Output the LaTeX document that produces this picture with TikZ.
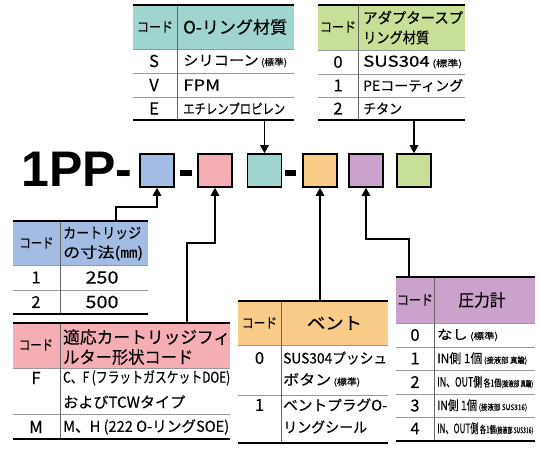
\documentclass[tikz,border=0pt]{standalone}
\usepackage{fontspec}
\setmainfont{Noto Sans CJK JP}[UprightFeatures={FakeBold=0.2}]
\newfontfamily\latb{Liberation Sans}
\usetikzlibrary{arrows.meta}
\definecolor{blueC}{HTML}{A2BCE3}
\definecolor{pinkC}{HTML}{F4AEB4}
\definecolor{tealC}{HTML}{9FD5CE}
\definecolor{oranC}{HTML}{F9CB88}
\definecolor{purpC}{HTML}{CBA2CC}
\definecolor{greeC}{HTML}{C8DF97}
\newcommand\fz[1]{\fontsize{#1}{#1}\selectfont}
\newsavebox\fitbox
\newcommand\fitto[2]{\sbox\fitbox{#2}\pgfmathsetmacro\fitr{#1/\the\wd\fitbox}\scalebox{\fitr}[1]{\usebox\fitbox}}
\tikzset{
  thkl/.style={line width=1.8pt},
  thinl/.style={line width=0.6pt, black!40},
  divl/.style={line width=0.7pt, black!60},
  conn/.style={line width=1.6pt, -{Triangle[length=8pt,width=8.5pt]}},
  cbox/.style={draw, line width=1.6pt, minimum width=34pt, minimum height=33pt, inner sep=0pt},
  lt/.style={inner sep=0pt, anchor=west},
  ct/.style={inner sep=0pt},
  cd/.style={inner sep=0pt, font=\fz{14}},
  num/.style={inner sep=0pt, font=\fz{16.5}},
}
\begin{document}
\begin{tikzpicture}[x=1pt,y=-1pt]
\useasboundingbox (0,0) rectangle (540,450);

% ---------- part number ----------
\node[lt, font=\latb\bfseries\fz{50}] (pn) at (21,169) {1PP-};
\node[cbox, fill=blueC] (b1) at (157,170.5) {};
\node[cbox, fill=pinkC] (b2) at (215,170.5) {};
\node[cbox, fill=tealC] (b3) at (264.5,170.5) {};
\node[cbox, fill=oranC] (b4) at (320,170.5) {};
\node[cbox, fill=purpC] (b5) at (366,170.5) {};
\node[cbox, fill=greeC] (b6) at (414,170.5) {};
\fill (180,170) rectangle (192,176);
\fill (285,170) rectangle (296,176);

% ---------- table 1: O-ring ----------
\fill[tealC] (133,5) rectangle (294,49);
\draw[thinl] (133,49)--(294,49) (133,73)--(294,73) (133,97)--(294,97);
\draw[divl] (177,5)--(177,120);
\draw[thkl] (133,5)--(294,5) (133,120)--(294,120);
\node[cd] (t1c) at (155,27) {\fitto{36}{コード}};
\node[lt] (t1h) at (183,27) {\fitto{104}{\fz{17}O-リング材質}};
\node[num] (t1r1c) at (154,61) {S};
\node[num] (t1r2c) at (154,85) {V};
\node[num] (t1r3c) at (154,108.5) {E};
\node[lt] (t1r1) at (183,61) {\fitto{104}{\fz{14}シリコーン\fz{9} (標準)}};
\node[lt] (t1r2) at (183,85) {\fitto{37}{\fz{15}FPM}};
\node[lt] (t1r3) at (183,108.5) {\fitto{102}{\fz{14}エチレンプロピレン}};

% ---------- table 2: adapter spring ----------
\fill[greeC] (318,5) rectangle (465,50);
\draw[thinl] (318,50)--(465,50) (318,74)--(465,74) (318,97)--(465,97);
\draw[divl] (358,5)--(358,120);
\draw[thkl] (318,5)--(465,5) (318,120)--(465,120);
\node[cd] (t2c) at (338,27) {\fitto{36}{コード}};
\node[lt] (t2h1) at (363,17.5) {\fitto{100}{\fz{15}アダプタースプ}};
\node[lt] (t2h2) at (363,37.5) {\fitto{66}{\fz{15}リング材質}};
\node[num] (t2r1c) at (338,62) {0};
\node[num] (t2r2c) at (338,85.5) {1};
\node[num] (t2r3c) at (338,108.5) {2};
\node[lt] (t2r1) at (363,62) {\fitto{99}{\fz{15}SUS304\fz{9} (標準)}};
\node[lt] (t2r2) at (363,85.5) {\fitto{100}{\fz{14}PEコーティング}};
\node[lt] (t2r3) at (363,108.5) {\fitto{39}{\fz{14}チタン}};

% ---------- table 3: cartridge size ----------
\fill[blueC] (13,221) rectangle (148,265);
\draw[thinl] (13,265)--(148,265) (13,290)--(148,290);
\draw[divl] (60,221)--(60,314);
\draw[thkl] (13,221)--(148,221) (13,314)--(148,314);
\node[cd] (t3c) at (36.5,243) {\fitto{34}{コード}};
\node[lt] (t3h1) at (63,233) {\fitto{78}{\fz{14.5}カートリッジ}};
\node[lt] (t3h2) at (63,253) {\fitto{80}{\fz{14.5}の寸法(㎜)}};
\node[num] (t3r1c) at (36,277.5) {1};
\node[num] (t3r2c) at (36,302) {2};
\node[num] (t3r1) at (102,277.5) {\fitto{33}{\fz{17}250}};
\node[num] (t3r2) at (102,302) {\fitto{33}{\fz{17}500}};

% ---------- table 4: filter shape ----------
\fill[pinkC] (13,323) rectangle (230,368);
\draw[thinl] (13,368)--(230,368) (13,414)--(230,414);
\draw[divl] (60,323)--(60,439);
\draw[thkl] (13,323)--(230,323) (13,439)--(230,439);
\node[cd] (t4c) at (36,345) {\fitto{34}{コード}};
\node[lt] (t4h1) at (63,337) {\fitto{167}{\fz{17}適応カートリッジフィ}};
\node[lt] (t4h2) at (63,357) {\fitto{130}{\fz{17}ルター形状コード}};
\node[num] (t4r1c) at (36,378) {F};
\node[num] (t4r2c) at (36,427) {M};
\node[lt] (t4r1a) at (63,378) {\fitto{167}{\fz{15}C、F (フラットガスケットDOE)}};
\node[lt] (t4r1b) at (63,402) {\fitto{122}{\fz{15}およびTCWタイプ}};
\node[lt] (t4r2) at (63,427) {\fitto{166}{\fz{15}M、H (222 O-リングSOE)}};

% ---------- table 5: vent ----------
\fill[oranC] (238,301) rectangle (388,345);
\draw[thinl] (238,345)--(388,345) (238,395)--(388,395);
\draw[divl] (281,301)--(281,443);
\draw[thkl] (238,301)--(388,301) (238,443)--(388,443);
\node[cd] (t5c) at (259.5,323) {\fitto{35}{コード}};
\node[ct] (t5h) at (334.5,323) {\fitto{55}{\fz{17}ベント}};
\node[num] (t5r1c) at (259.5,358) {0};
\node[num] (t5r2c) at (259.5,405) {1};
\node[lt] (t5r1a) at (283,358) {\fitto{104}{\fz{14.5}SUS304プッシュ}};
\node[lt] (t5r1b) at (283,380) {\fitto{77}{\fz{14.5}ボタン\fz{9} (標準)}};
\node[lt] (t5r2a) at (283,405) {\fitto{104}{\fz{14.5}ベントプラグO-}};
\node[lt] (t5r2b) at (283,427) {\fitto{84}{\fz{14.5}リングシール}};

% ---------- table 6: pressure gauge ----------
\fill[purpC] (396,277) rectangle (535,323);
\draw[thinl] (396,323)--(535,323) (396,347)--(535,347) (396,370)--(535,370) (396,394)--(535,394) (396,417)--(535,417);
\draw[divl] (434,277)--(434,441);
\draw[thkl] (396,277)--(535,277) (396,441)--(535,441);
\node[cd] (t6c) at (415,300) {\fitto{36}{コード}};
\node[ct] (t6h) at (482,300) {\fitto{47}{\fz{17}圧力計}};
\node[num] (t6r0c) at (415,335) {0};
\node[num] (t6r1c) at (415,358.5) {1};
\node[num] (t6r2c) at (415,382) {2};
\node[num] (t6r3c) at (415,405.5) {3};
\node[num] (t6r4c) at (415,428.5) {4};
\node[lt] (t6r0) at (437,335) {\fitto{61}{\fz{13}なし\fz{9} (標準)}};
\node[lt] (t6r1) at (437,358.5) {\fitto{90}{\fz{13}IN側 1個\fz{8} (接液部 真鍮)}};
\node[lt] (t6r2) at (437,382) {\fitto{96}{\fz{13}IN、OUT側\fz{10} 各1個\fz{8}(接液部 真鍮)}};
\node[lt] (t6r3) at (437,405.5) {\fitto{90}{\fz{13}IN側 1個\fz{8} (接液部 SUS316)}};
\node[lt] (t6r4) at (437,428.5) {\fitto{96}{\fz{13}IN、OUT側\fz{10} 各1個\fz{8}(接液部 SUS316)}};

% ---------- connectors ----------
\coordinate (t1b) at (264.5,120);
\coordinate (t2b) at (414,120);
\coordinate (t3t) at (116,221);
\coordinate (k1) at (116,207);
\coordinate (t4t) at (187,323);
\coordinate (k2) at (187,243);
\coordinate (t5t) at (320,301);
\coordinate (t6t) at (409,277);
\coordinate (k5) at (409,239);
\draw[conn] (t1b) -- (b3.north);
\draw[conn] (t2b) -- (b6.north);
\draw[conn] (t3t) -- (k1) -| (b1.south);
\draw[conn] (t4t) -- (k2) -| (b2.south);
\draw[conn] (t5t) -- (b4.south);
\draw[conn] (t6t) -- (k5) -| (b5.south);
\end{tikzpicture}
\end{document}
